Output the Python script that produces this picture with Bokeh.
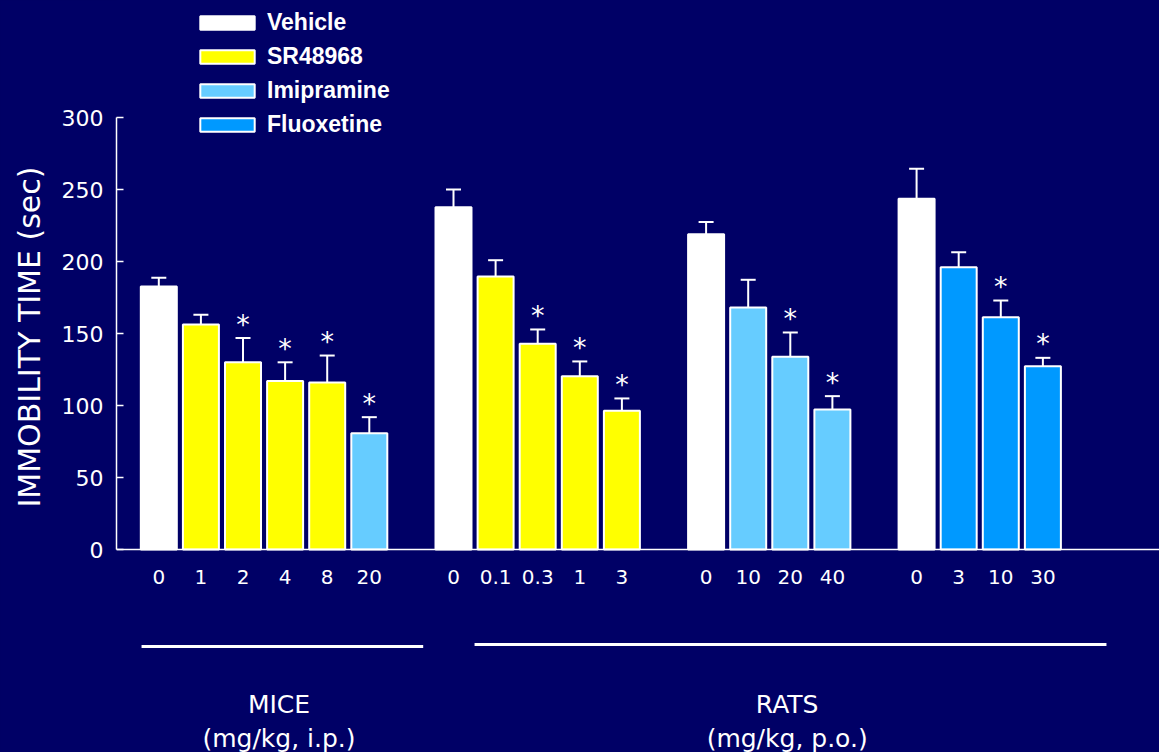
from bokeh.plotting import figure
from bokeh.models import (ColumnDataSource, Whisker, TeeHead, Span, Legend, LegendItem,
                          FixedTicker, Range1d, Title)
from bokeh.core.properties import value
from bokeh.embed import file_html
from bokeh.resources import INLINE

# ---------------- data ----------------
treatments = ["Vehicle", "SR48968", "Imipramine", "Fluoxetine"]
treatment_colors = ["#FFFFFF", "#FFFF00", "#66CCFF", "#0099FF"]

mice_doses = ["0", "1", "2", "4", "8", "20"]
mice_treat = ["Vehicle", "SR48968", "SR48968", "SR48968", "SR48968", "Imipramine"]
mice_mean = [182.6, 156.3, 130.0, 117.1, 116.0, 80.8]
mice_sem = [6.1, 6.8, 16.8, 12.9, 18.7, 11.1]
mice_sig = [False, False, True, True, True, True]

rats_sr_doses = ["0", "0.1", "0.3", "1", "3"]
rats_sr_treat = ["Vehicle", "SR48968", "SR48968", "SR48968", "SR48968"]
rats_sr_mean = [237.7, 189.6, 142.8, 120.4, 96.3]
rats_sr_sem = [12.3, 11.3, 10.0, 10.2, 8.6]
rats_sr_sig = [False, False, True, True, True]

rats_imi_doses = ["0", "10", "20", "40"]
rats_imi_treat = ["Vehicle", "Imipramine", "Imipramine", "Imipramine"]
rats_imi_mean = [219.0, 168.0, 133.8, 97.2]
rats_imi_sem = [8.5, 19.3, 16.9, 9.3]
rats_imi_sig = [False, False, True, True]

rats_flx_doses = ["0", "3", "10", "30"]
rats_flx_treat = ["Vehicle", "Fluoxetine", "Fluoxetine", "Fluoxetine"]
rats_flx_mean = [243.5, 196.0, 161.3, 127.3]
rats_flx_sem = [20.9, 10.5, 11.6, 5.8]
rats_flx_sig = [False, False, True, True]

species_names = ["MICE", "RATS"]
species_routes = ["(mg/kg, i.p.)", "(mg/kg, p.o.)"]

y_ticks = [0, 50, 100, 150, 200, 250, 300]
y_title = "IMMOBILITY TIME (sec)"

# ---------------- assemble ----------------
groups = [
    (mice_doses, mice_treat, mice_mean, mice_sem, mice_sig),
    (rats_sr_doses, rats_sr_treat, rats_sr_mean, rats_sr_sem, rats_sr_sig),
    (rats_imi_doses, rats_imi_treat, rats_imi_mean, rats_imi_sem, rats_imi_sig),
    (rats_flx_doses, rats_flx_treat, rats_flx_mean, rats_flx_sem, rats_flx_sig),
]
xs, labels, treat, means, uppers, sigs = [], [], [], [], [], []
group_first, group_last = [], []
slot = 0
for doses, tr, mn, se, sg in groups:
    group_first.append(slot)
    for i in range(len(doses)):
        xs.append(slot + i)
        labels.append(doses[i])
        treat.append(tr[i])
        means.append(mn[i])
        uppers.append(mn[i] + se[i])
        sigs.append(sg[i])
    group_last.append(slot + len(doses) - 1)
    slot += len(doses) + 1

BG = "#000066"
FONT = "DejaVu Sans"

p = figure(width=1159, height=752,
           x_range=Range1d(-1.005, 23.77), y_range=Range1d(-140.97, 381.25),
           output_backend="svg", toolbar_location=None, x_axis_location=None,
           min_border_left=116, min_border_right=0, min_border_top=0, min_border_bottom=0,
           background_fill_color=BG, border_fill_color=BG, outline_line_color=None)
p.styles = {"background-color": BG}
p.grid.grid_line_color = None

# bars per treatment
bar_width = 0.855
renderers = {}
for t, c in zip(treatments, treatment_colors):
    idx = [i for i in range(len(xs)) if treat[i] == t]
    src = ColumnDataSource(dict(x=[xs[i] for i in idx], top=[means[i] for i in idx]))
    renderers[t] = p.vbar(x="x", top="top", bottom=0, width=bar_width, source=src,
                          fill_color=c, line_color="white", line_width=2)

# error bars (upper only)
err_src = ColumnDataSource(dict(x=xs, lower=means, upper=uppers))
whisk = Whisker(source=err_src, base="x", lower="lower", upper="upper", dimension="height",
                line_color="white", line_width=2, lower_head=None,
                upper_head=TeeHead(size=15, line_color="white", line_width=2))
p.add_layout(whisk)

# asterisks
sig_src = ColumnDataSource(dict(x=[xs[i] for i in range(len(xs)) if sigs[i]],
                                y=[uppers[i] for i in range(len(xs)) if sigs[i]]))
p.text(x="x", y="y", text=value("*"), source=sig_src, text_color="white",
       text_align="center", text_baseline="alphabetic", y_offset=-14,
       text_font=value(FONT), text_font_size="27px")

# baseline
p.add_layout(Span(location=0, dimension="width", line_color="white", line_width=1.5))

# dose tick labels
tick_src = ColumnDataSource(dict(x=xs, y=[0] * len(xs), t=labels))
p.text(x="x", y="y", text="t", source=tick_src, text_color="white", text_align="center",
       text_baseline="middle", y_offset=27, text_font=value(FONT), text_font_size="20px")

# species bars and labels
sp_x0 = [group_first[0] - 0.41, group_first[1] + 0.5]
sp_x1 = [group_last[0] + 1.28, group_last[3] + 1.51]
p.segment(x0=sp_x0, y0=[-67.4, -66.0], x1=sp_x1, y1=[-67.4, -66.0],
          line_color="white", line_width=3)
cx = [(a + b) / 2 - 0.08 for a, b in zip(sp_x0, sp_x1)]
p.text(x=cx, y=[-107.3, -107.3], text=species_names, text_color="white",
       text_align="center", text_baseline="middle", text_font=value(FONT),
       text_font_size="25px")
p.text(x=cx, y=[-131.3, -131.3], text=species_routes, text_color="white",
       text_align="center", text_baseline="middle", text_font=value(FONT),
       text_font_size="25px")

# y axis
ax = p.yaxis[0]
ax.bounds = (0, 300)
ax.ticker = FixedTicker(ticks=y_ticks)
ax.axis_line_color = "white"
ax.axis_line_width = 1.5
ax.major_tick_line_color = "white"
ax.major_tick_line_width = 1.5
ax.major_tick_in = 7
ax.major_tick_out = 0
ax.minor_tick_line_color = None
ax.major_label_text_color = "white"
ax.major_label_text_font = FONT
ax.major_label_text_font_size = "22px"
ax.major_label_standoff = 13

# y axis title, placed along the 0-300 part of the axis
p.add_layout(Title(text=y_title, align="left", offset=245, vertical_align="top",
                   standoff=20, text_color="white", text_font=FONT,
                   text_font_size="30px", text_font_style="normal"), "left")

# legend
legend = Legend(items=[LegendItem(label=t, renderers=[renderers[t]]) for t in treatments],
                location=(77, 614), orientation="vertical",
                glyph_width=68, glyph_height=17, label_standoff=6, spacing=7,
                padding=0, margin=0, background_fill_alpha=0, border_line_color=None,
                label_text_color="white", label_text_font="Liberation Sans",
                label_text_font_style="bold", label_text_font_size="23px")
p.add_layout(legend)

open("out.html", "w").write(file_html(p, INLINE))
